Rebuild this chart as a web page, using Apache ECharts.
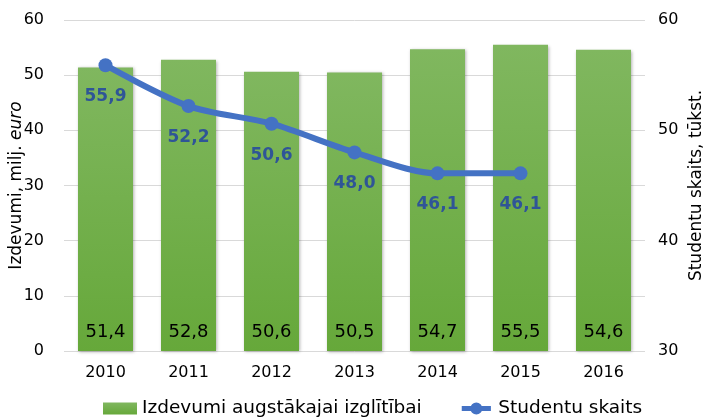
<!DOCTYPE html>
<html>
<head>
<meta charset="utf-8">
<script src="https://cdn.jsdelivr.net/npm/echarts@6/dist/echarts.min.js"></script>
<style>
  html, body { margin: 0; padding: 0; background: #fff; }
  #chart { width: 706px; height: 419px; }
</style>
</head>
<body>
<div id="chart"></div>
<script>
// dati
var years = ['2010', '2011', '2012', '2013', '2014', '2015', '2016'];
var izdevumi = [51.4, 52.8, 50.6, 50.5, 54.7, 55.5, 54.6];      // milj. euro
var studenti = [55.9, 52.2, 50.6, 48.0, 46.1, 46.1, null];     // tūkst.
var leftTicks = { min: 0, max: 60, step: 10 };
var rightTicks = { min: 30, max: 60, step: 10 };

var font = 'DejaVu Sans';

// leģendas ikona: bieza līnija ar punktu
var lineIcon = 'path://M0,4 L11,4 L11,10 L0,10 Z M23,4 L34,4 L34,10 L23,10 Z ' +
    'M10,7 A7,7 0 1 1 24,7 A7,7 0 1 1 10,7 Z';

function comma(v) {
    return v.toFixed(1).replace('.', ',');
}

var chart = echarts.init(document.getElementById('chart'));

var option = {
    animation: false,
    textStyle: { fontFamily: font },
    grid: { left: 64, right: 61, top: 20, bottom: 68, containLabel: false, outerBoundsMode: 'none' },
    legend: {
        bottom: 1,
        left: 103,
        padding: 0,
        itemGap: 40,
        itemWidth: 34,
        itemHeight: 12,
        textStyle: { fontSize: 18.5, color: '#000', fontFamily: font },
        data: [
            { name: 'Izdevumi augstākajai izglītībai', icon: 'rect' },
            { name: 'Studentu skaits', icon: lineIcon }
        ]
    },
    xAxis: {
        type: 'category',
        data: years,
        axisLine: { show: false },
        axisTick: { show: false },
        axisLabel: { fontSize: 16, color: '#000', margin: 14 }
    },
    yAxis: [{
        type: 'value',
        min: leftTicks.min,
        max: leftTicks.max,
        interval: leftTicks.step,
        name: '{n|Izdevumi, milj. }{i|euro}',
        nameLocation: 'middle',
        nameRotate: 90,
        nameGap: 39,
        nameMoveOverlap: false,
        nameTextStyle: {
            rich: {
                n: { fontSize: 17, color: '#000', fontFamily: font },
                i: { fontSize: 17, color: '#000', fontStyle: 'italic', fontFamily: font }
            }
        },
        axisLabel: { fontSize: 16, color: '#000', margin: 20 },
        splitLine: { lineStyle: { color: '#d9d9d9' } }
    }, {
        type: 'value',
        position: 'right',
        min: rightTicks.min,
        max: rightTicks.max,
        interval: rightTicks.step,
        name: 'Studentu skaits, tūkst.',
        nameLocation: 'middle',
        nameRotate: 90,
        nameGap: 43,
        nameMoveOverlap: false,
        nameTextStyle: { fontSize: 17, color: '#000' },
        axisLabel: { fontSize: 16, color: '#000', margin: 13 },
        splitLine: { show: false }
    }],
    series: [{
        name: 'Izdevumi augstākajai izglītībai',
        type: 'bar',
        data: izdevumi,
        barWidth: 55,
        itemStyle: {
            color: new echarts.graphic.LinearGradient(0, 0, 0, 1, [
                { offset: 0, color: '#80b75f' },
                { offset: 1, color: '#66a83a' }
            ]),
            shadowBlur: 3,
            shadowColor: 'rgba(0,0,0,0.3)',
            shadowOffsetX: 1,
            shadowOffsetY: 1
        },
        label: {
            show: true,
            position: 'insideBottom',
            distance: 10,
            fontSize: 18,
            color: '#000',
            formatter: function (p) { return comma(p.value); }
        }
    }, {
        name: 'Studentu skaits',
        type: 'line',
        yAxisIndex: 1,
        data: studenti,
        smooth: 0.3,
        symbol: 'circle',
        symbolSize: 14,
        lineStyle: { width: 6, color: '#4472c4' },
        itemStyle: { color: '#4472c4' },
        label: {
            show: true,
            position: 'bottom',
            distance: 16,
            fontSize: 17,
            fontWeight: 'bold',
            color: '#2f5597',
            formatter: function (p) { return comma(p.value); }
        }
    }]
};

chart.setOption(option);
</script>
</body>
</html>
